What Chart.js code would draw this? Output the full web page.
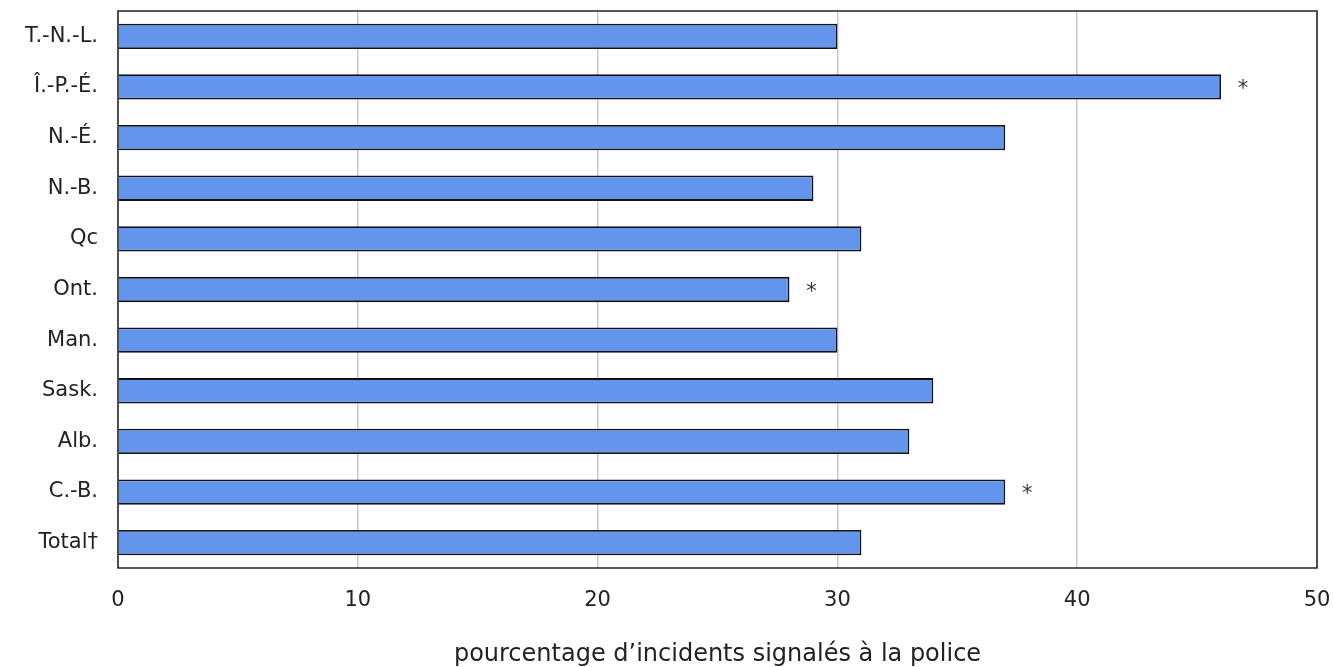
<!DOCTYPE html>
<html>
<head>
<meta charset="utf-8">
<script src="https://cdn.jsdelivr.net/npm/chart.js@4"></script>
<style>
  html, body { margin: 0; padding: 0; background: #fff; }
  #wrap { width: 1333px; height: 667px; }
</style>
</head>
<body>
<div id="wrap"><canvas id="graph"></canvas></div>
<script>
// données
const provinces = ['T.-N.-L.', 'Î.-P.-É.', 'N.-É.', 'N.-B.', 'Qc', 'Ont.', 'Man.', 'Sask.', 'Alb.', 'C.-B.', 'Total†'];
const pourcentages = [30, 46, 37, 29, 31, 28, 30, 34, 33, 37, 31];
const significatif = ['', '*', '', '', '', '*', '', '', '', '*', ''];
const xTicks = [0, 10, 20, 30, 40, 50];
const xTitle = 'pourcentage d’incidents signalés à la police';

const FONT = 'Verdana, "DejaVu Sans", sans-serif';

// astérisques + cadre du graphique
const extras = {
  id: 'extras',
  afterDatasetsDraw(chart) {
    const c = chart.ctx;
    const x = chart.scales.x, y = chart.scales.y;
    c.save();
    c.fillStyle = '#333';
    c.font = '21px ' + FONT;
    c.textAlign = 'center';
    c.textBaseline = 'middle';
    significatif.forEach((s, i) => {
      if (!s) return;
      c.fillText(s, x.getPixelForValue(pourcentages[i]) + 22, y.getPixelForValue(i) + 3);
    });
    const a = chart.chartArea;
    c.strokeStyle = '#222';
    c.lineWidth = 1.5;
    c.strokeRect(a.left, a.top, a.right - a.left, a.bottom - a.top);
    c.restore();
  }
};

let ctx = document.getElementById('graph').getContext('2d');
let chart = new Chart(ctx, {
  type: 'bar',
  data: {
    labels: provinces,
    datasets: [{
      data: pourcentages,
      backgroundColor: '#6495ED',
      borderColor: '#111',
      borderWidth: 1.8,
      barPercentage: 0.5,
      categoryPercentage: 1
    }]
  },
  options: {
    indexAxis: 'y',
    responsive: true,
    maintainAspectRatio: false,
    animation: false,
    layout: { padding: { top: 11, right: 16, left: 0, bottom: 0 } },
    plugins: {
      legend: { display: false },
      tooltip: { enabled: false }
    },
    scales: {
      x: {
        min: 0,
        max: 50,
        afterBuildTicks: s => { s.ticks = xTicks.map(v => ({ value: v })); },
        afterFit: s => { s.height = 99; s.paddingLeft = 0; s.paddingRight = 0; },
        grid: { color: '#c8c8c8', lineWidth: 1.5, drawTicks: false },
        border: { display: false },
        ticks: { color: '#222', padding: 20, font: { family: FONT, size: 21 } },
        title: {
          display: true,
          text: xTitle,
          color: '#222',
          padding: { top: 10, bottom: 0 },
          font: { family: FONT, size: 24, lineHeight: 1 }
        }
      },
      y: {
        afterFit: s => { s.width = 118; s.paddingTop = 0; s.paddingBottom = 0; },
        grid: { display: false, drawTicks: false },
        border: { display: false },
        ticks: { color: '#222', padding: 20, font: { family: FONT, size: 21 } }
      }
    }
  },
  plugins: [extras]
});
</script>
</body>
</html>
